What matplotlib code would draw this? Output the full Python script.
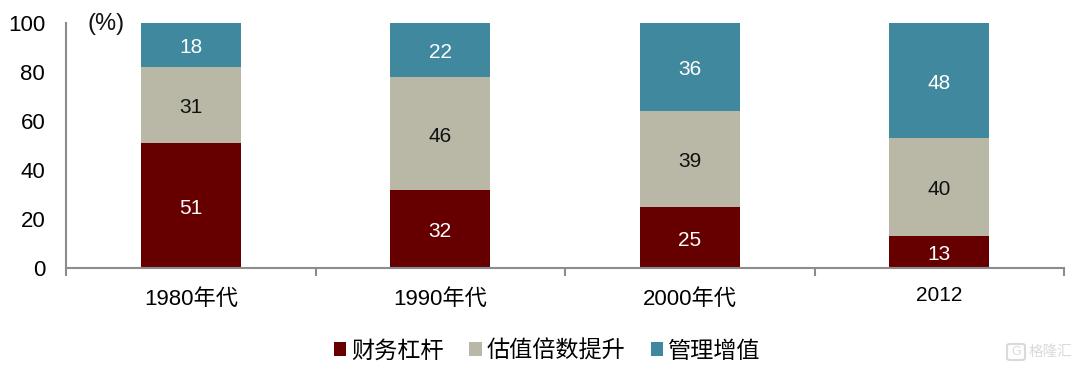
import matplotlib
matplotlib.use("Agg")
import matplotlib.pyplot as plt
from matplotlib.patches import FancyBboxPatch
from matplotlib.transforms import ScaledTranslation
import numpy as np

plt.rcParams['font.family'] = ['Liberation Sans', 'Noto Sans CJK SC', 'DejaVu Sans']

categories = ['1980年代', '1990年代', '2000年代', '2012']
leverage = [51, 32, 25, 13]
valuation = [31, 46, 39, 40]
management = [18, 22, 36, 48]
series_names = ['财务杠杆', '估值倍数提升', '管理增值']

DARK_RED = '#660000'
KHAKI = '#B9B8A6'
TEAL = '#3F889E'
GREY = '#8C8C8C'

W, H = 1080, 370
fig = plt.figure(figsize=(W / 100, H / 100), dpi=100)
ax = fig.add_axes([66 / W, 1 - 268 / H, (1064 - 66) / W, (268 - 23) / H])

x = np.arange(len(categories))
width = 100 / 249.5
bottom2 = np.array(leverage)
bottom3 = bottom2 + np.array(valuation)
b1 = ax.bar(x, leverage, width, color=DARK_RED, label=series_names[0])
b2 = ax.bar(x, valuation, width, bottom=bottom2, color=KHAKI, label=series_names[1])
b3 = ax.bar(x, management, width, bottom=bottom3, color=TEAL, label=series_names[2])

labels = []
labels += ax.bar_label(b1, labels=[str(v) for v in leverage], label_type='center', color='white', fontsize=15)
labels += ax.bar_label(b2, labels=[str(v) for v in valuation], label_type='center', color='#111111', fontsize=15)
labels += ax.bar_label(b3, labels=[str(v) for v in management], label_type='center', color='white', fontsize=15)
# labels sit a bit lower in the original
for t in labels:
    t.xyann = (0, -2)

ax.set_xlim(-0.5, 3.5)
ax.set_ylim(0, 100)
ax.set_yticks(range(0, 101, 20))
ax.tick_params(axis='y', length=0, labelsize=16, pad=15)
ax.set_xticks(np.arange(-0.5, 4, 1))
ax.set_xticklabels([])
ax.set_xticks(x, minor=True)
ax.set_xticklabels(categories, minor=True, fontsize=16)
ax.tick_params(axis='x', which='major', length=6, width=1.5, color=GREY, direction='out')
ax.tick_params(axis='x', which='minor', length=0, pad=15)
# 2012 is smaller and sits higher than the other labels
last = ax.get_xticklabels(minor=True)[-1]
last.set_fontsize(15)
last.set_transform(last.get_transform() + ScaledTranslation(0, 3 / 100, fig.dpi_scale_trans))

for s in ['top', 'right']:
    ax.spines[s].set_visible(False)
for s in ['left', 'bottom']:
    ax.spines[s].set_color(GREY)
    ax.spines[s].set_linewidth(1.5)

fig.text(106 / W, 1 - 24 / H, '(%)', fontsize=17, ha='center', va='center', color='#111111')

fig.legend(handles=[b1, b2, b3], labels=series_names, loc='center',
           bbox_to_anchor=(547 / W, 1 - 351 / H), ncol=3, frameon=False, fontsize=16.7,
           handlelength=0.55, handleheight=0.55, handletextpad=0.2, columnspacing=1.1)

# watermark
fig.add_artist(FancyBboxPatch((1007 / W, 1 - 360 / H), 18 / W, 16 / H, transform=fig.transFigure,
                              boxstyle='round,pad=0,rounding_size=0.004', fill=False,
                              edgecolor='#DADADA', linewidth=1.5))
fig.text(1016 / W, 1 - 352 / H, 'G', fontsize=9, ha='center', va='center', color='#DADADA')
fig.text(1029 / W, 1 - 352 / H, '格隆汇', fontsize=10.5, ha='left', va='center', color='#DADADA')

fig.savefig('out.png', dpi=100)
